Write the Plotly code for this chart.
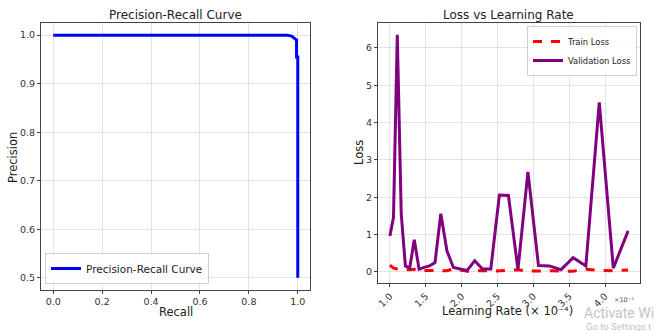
import plotly.graph_objects as go

# ---- data ----
pr_recall = [0.0, 0.955, 0.975, 0.988, 0.995, 0.995, 1.0, 1.0]
pr_precision = [1.0, 1.0, 0.998, 0.993, 0.99, 0.955, 0.955, 0.5]

lr = [1.000, 1.050, 1.103, 1.158, 1.216, 1.276, 1.340, 1.407, 1.477, 1.551,
      1.629, 1.710, 1.796, 1.886, 1.980, 2.079, 2.183, 2.292, 2.407, 2.527,
      2.653, 2.786, 2.925, 3.072, 3.225, 3.386, 3.556, 3.733, 3.920, 4.116, 4.322]
val_loss = [0.96, 1.46, 6.35, 1.55, 0.16, 0.10, 0.86, 0.07, 0.12, 0.16,
            0.25, 1.56, 0.56, 0.12, 0.08, 0.04, 0.30, 0.08, 0.08, 2.06,
            2.05, 0.06, 2.68, 0.17, 0.16, 0.06, 0.38, 0.16, 4.54, 0.10, 1.10]
train_loss = [0.18, 0.10, 0.08, 0.07, 0.07, 0.06, 0.07, 0.03, 0.04, 0.04,
              0.03, 0.03, 0.03, 0.08, 0.06, 0.02, 0.02, 0.04, 0.02, 0.03,
              0.03, 0.06, 0.02, 0.03, 0.03, 0.02, 0.02, 0.07, 0.04, 0.03, 0.05]

pr_xticks = [0.0, 0.2, 0.4, 0.6, 0.8, 1.0]
pr_yticks = [0.5, 0.6, 0.7, 0.8, 0.9, 1.0]
lr_xticks = [1.0, 1.5, 2.0, 2.5, 3.0, 3.5, 4.0]
loss_yticks = [0, 1, 2, 3, 4, 5, 6]

W, H = 657, 331
FONT = "DejaVu Sans"

def px_x(p):
    return p / W

def px_y(p):
    return 1 - p / H

fig = go.Figure()

fig.add_trace(go.Scatter(
    x=pr_recall, y=pr_precision, mode="lines", name="Precision-Recall Curve",
    line=dict(color="#0000ff", width=3), xaxis="x", yaxis="y", legend="legend"))

fig.add_trace(go.Scatter(
    x=lr, y=train_loss, mode="lines", name="Train Loss",
    line=dict(color="#ff0000", width=3, dash="dash"), xaxis="x2", yaxis="y2",
    legend="legend2"))
fig.add_trace(go.Scatter(
    x=lr, y=val_loss, mode="lines", name="Validation Loss",
    line=dict(color="#800080", width=3), xaxis="x2", yaxis="y2",
    legend="legend2"))

axis_common = dict(
    showgrid=True, gridcolor="#e3e3e3", gridwidth=1,
    showline=True, linecolor="#444", linewidth=1, mirror=True,
    ticks="outside", ticklen=3, tickcolor="#444",
    tickfont=dict(family=FONT, size=9.5, color="#333"),
    zeroline=False, automargin=False,
)

def ann(text, x, y, size, angle=0, color="#222", family=FONT, xanchor="center"):
    return dict(text=text, x=px_x(x), y=px_y(y), xref="paper", yref="paper",
                xanchor=xanchor, yanchor="middle", showarrow=False, textangle=angle,
                font=dict(family=family, size=size, color=color))

fig.update_layout(
    width=W, height=H,
    margin=dict(l=0, r=0, t=0, b=0, autoexpand=False),
    paper_bgcolor="white", plot_bgcolor="white",
    font=dict(family=FONT, color="#222"),
    showlegend=True,
    xaxis=dict(domain=[px_x(41), px_x(310)], range=[-0.05, 1.05],
               tickvals=pr_xticks, ticktext=[f"{v:.1f}" for v in pr_xticks],
               anchor="y", **axis_common),
    yaxis=dict(domain=[px_y(290), px_y(23)], range=[0.475, 1.025],
               tickvals=pr_yticks, ticktext=[f"{v:.1f}" for v in pr_yticks],
               anchor="x", **axis_common),
    xaxis2=dict(domain=[px_x(378), px_x(640)], range=[0.834, 4.488],
                tickvals=lr_xticks, ticktext=[f"{v:.1f}" for v in lr_xticks],
                tickangle=-45,
                anchor="y2", **axis_common),
    yaxis2=dict(domain=[px_y(283), px_y(23)], range=[-0.297, 6.667],
                tickvals=loss_yticks, ticktext=[str(v) for v in loss_yticks],
                anchor="x2", **axis_common),
    legend=dict(x=px_x(45), y=px_y(284), xanchor="left", yanchor="bottom",
                bgcolor="rgba(255,255,255,0.8)", bordercolor="#d0d0d0", borderwidth=1,
                font=dict(family=FONT, size=10.5, color="#222"),
                itemwidth=30, tracegroupgap=0, visible=True),
    legend2=dict(x=px_x(637), y=px_y(26), xanchor="right", yanchor="top",
                 bgcolor="rgba(255,255,255,0.8)", bordercolor="#d0d0d0", borderwidth=1,
                 font=dict(family=FONT, size=8.4, color="#222"),
                 itemwidth=30, tracegroupgap=0, visible=True),
    annotations=[
        ann("Precision-Recall Curve", 175.5, 15, 12),
        ann("Loss vs Learning Rate", 508, 15, 12),
        ann("Recall", 175.5, 312, 11.5),
        ann("Precision", 13, 158, 11.5, angle=-90),
        ann("Learning Rate (× 10⁻⁴)", 507, 311, 11.5),
        ann("Loss", 359, 153, 11.5, angle=-90),
        ann("Activate Wi", 582, 313, 14, color="#c4c4c4", family="Roboto", xanchor="left"),
        ann("Go to Settings t", 584, 326, 9.5, color="#c4c4c4", family="Roboto", xanchor="left"),
        ann("×10⁻⁴", 624, 300, 6.5, color="#555"),
    ],
)

fig.write_html("out.html", config={"displayModeBar": False},
               post_script="document.body.style.margin='0px';")
